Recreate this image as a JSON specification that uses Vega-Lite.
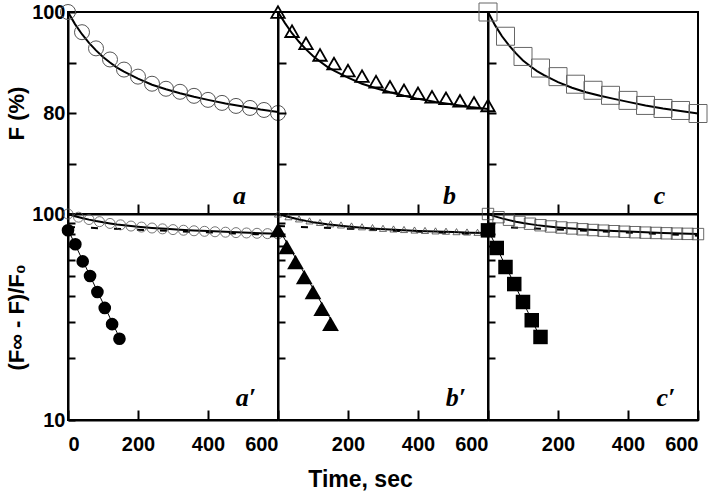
{
"$schema":"https://vega.github.io/schema/vega-lite/v6.json",
"background":"white",
"padding":{"left":4,"top":0,"right":5,"bottom":2},
"config":{
 "view":{"stroke":"black","strokeWidth":2},
 "concat":{"spacing":0},
 "axis":{"grid":false,"labelFont":"Liberation Sans","labelFontWeight":"bold","labelFontSize":20,"labelColor":"black","titleFont":"Liberation Sans","titleFontWeight":"bold","titleFontSize":22,"titleColor":"black","domainColor":"black","domainWidth":2,"tickColor":"black","tickWidth":2}
},
"datasets":{
 "sym":[
  {"panel":"a","t":0,"v":100},{"panel":"a","t":40,"v":96},{"panel":"a","t":80,"v":92.8},{"panel":"a","t":120,"v":90.6},{"panel":"a","t":160,"v":88.6},{"panel":"a","t":200,"v":87.2},{"panel":"a","t":240,"v":85.8},{"panel":"a","t":280,"v":84.8},{"panel":"a","t":320,"v":84.2},{"panel":"a","t":360,"v":83.4},{"panel":"a","t":400,"v":82.6},{"panel":"a","t":440,"v":82},{"panel":"a","t":480,"v":81.4},{"panel":"a","t":520,"v":81},{"panel":"a","t":560,"v":80.6},{"panel":"a","t":600,"v":80},
  {"panel":"b","t":0,"v":100},{"panel":"b","t":40,"v":96.2},{"panel":"b","t":80,"v":93.8},{"panel":"b","t":120,"v":91.5},{"panel":"b","t":160,"v":89.8},{"panel":"b","t":200,"v":88.4},{"panel":"b","t":240,"v":87.3},{"panel":"b","t":280,"v":86.2},{"panel":"b","t":320,"v":85.2},{"panel":"b","t":360,"v":84.5},{"panel":"b","t":400,"v":83.9},{"panel":"b","t":440,"v":83.2},{"panel":"b","t":480,"v":82.9},{"panel":"b","t":520,"v":82.4},{"panel":"b","t":560,"v":82},{"panel":"b","t":600,"v":81.5},
  {"panel":"c","t":0,"v":100},{"panel":"c","t":50,"v":95.2},{"panel":"c","t":100,"v":91.2},{"panel":"c","t":150,"v":88.9},{"panel":"c","t":200,"v":87.2},{"panel":"c","t":250,"v":85.7},{"panel":"c","t":300,"v":84.5},{"panel":"c","t":350,"v":83.5},{"panel":"c","t":400,"v":82.5},{"panel":"c","t":450,"v":81.5},{"panel":"c","t":500,"v":80.9},{"panel":"c","t":550,"v":80.5},{"panel":"c","t":600,"v":79.9}
 ],
 "fit":[
  {"panel":"a","t":0,"v":100},{"panel":"a","t":20,"v":97.6},{"panel":"a","t":40,"v":95.6},{"panel":"a","t":60,"v":93.9},{"panel":"a","t":80,"v":92.4},{"panel":"a","t":100,"v":91.1},{"panel":"a","t":120,"v":90},{"panel":"a","t":140,"v":89},{"panel":"a","t":160,"v":88.2},{"panel":"a","t":200,"v":86.8},{"panel":"a","t":240,"v":85.6},{"panel":"a","t":280,"v":84.7},{"panel":"a","t":320,"v":83.9},{"panel":"a","t":360,"v":83.2},{"panel":"a","t":400,"v":82.6},{"panel":"a","t":450,"v":81.9},{"panel":"a","t":500,"v":81.3},{"panel":"a","t":550,"v":80.7},{"panel":"a","t":600,"v":80.2},
  {"panel":"b","t":0,"v":100},{"panel":"b","t":20,"v":97.8},{"panel":"b","t":40,"v":95.8},{"panel":"b","t":60,"v":94.1},{"panel":"b","t":80,"v":92.6},{"panel":"b","t":100,"v":91.3},{"panel":"b","t":120,"v":90.2},{"panel":"b","t":140,"v":89.2},{"panel":"b","t":160,"v":88.4},{"panel":"b","t":200,"v":87},{"panel":"b","t":240,"v":85.8},{"panel":"b","t":280,"v":84.9},{"panel":"b","t":320,"v":84.1},{"panel":"b","t":360,"v":83.4},{"panel":"b","t":400,"v":82.8},{"panel":"b","t":450,"v":82.2},{"panel":"b","t":500,"v":81.7},{"panel":"b","t":550,"v":81.2},{"panel":"b","t":600,"v":80.8},
  {"panel":"c","t":0,"v":100},{"panel":"c","t":20,"v":97.4},{"panel":"c","t":40,"v":95.2},{"panel":"c","t":60,"v":93.4},{"panel":"c","t":80,"v":91.8},{"panel":"c","t":100,"v":90.4},{"panel":"c","t":120,"v":89.3},{"panel":"c","t":140,"v":88.3},{"panel":"c","t":160,"v":87.5},{"panel":"c","t":200,"v":86.1},{"panel":"c","t":240,"v":85},{"panel":"c","t":280,"v":84.1},{"panel":"c","t":320,"v":83.4},{"panel":"c","t":360,"v":82.8},{"panel":"c","t":400,"v":82.2},{"panel":"c","t":450,"v":81.5},{"panel":"c","t":500,"v":80.9},{"panel":"c","t":550,"v":80.4},{"panel":"c","t":600,"v":79.9}
 ],
 "small":[
  {"panel":"a","t":0,"v":100},{"panel":"a","t":30,"v":96.5},{"panel":"a","t":60,"v":94},{"panel":"a","t":90,"v":91.8},{"panel":"a","t":120,"v":90},{"panel":"a","t":150,"v":88.6},{"panel":"a","t":180,"v":87.4},{"panel":"a","t":210,"v":86.4},{"panel":"a","t":240,"v":85.5},{"panel":"a","t":270,"v":84.7},{"panel":"a","t":300,"v":84},{"panel":"a","t":330,"v":83.4},{"panel":"a","t":360,"v":82.9},{"panel":"a","t":390,"v":82.4},{"panel":"a","t":420,"v":82},{"panel":"a","t":450,"v":81.6},{"panel":"a","t":480,"v":81.2},{"panel":"a","t":510,"v":80.9},{"panel":"a","t":540,"v":80.6},{"panel":"a","t":570,"v":80.3},{"panel":"a","t":600,"v":80},
  {"panel":"b","t":0,"v":100},{"panel":"b","t":30,"v":97},{"panel":"b","t":60,"v":94.7},{"panel":"b","t":90,"v":92.6},{"panel":"b","t":120,"v":91},{"panel":"b","t":150,"v":89.6},{"panel":"b","t":180,"v":88.5},{"panel":"b","t":210,"v":87.5},{"panel":"b","t":240,"v":86.7},{"panel":"b","t":270,"v":85.9},{"panel":"b","t":300,"v":85.2},{"panel":"b","t":330,"v":84.6},{"panel":"b","t":360,"v":84.1},{"panel":"b","t":390,"v":83.6},{"panel":"b","t":420,"v":83.2},{"panel":"b","t":450,"v":82.8},{"panel":"b","t":480,"v":82.5},{"panel":"b","t":510,"v":82.1},{"panel":"b","t":540,"v":81.8},{"panel":"b","t":570,"v":81.5},{"panel":"b","t":600,"v":81.2},
  {"panel":"c","t":0,"v":100},{"panel":"c","t":30,"v":96.5},{"panel":"c","t":60,"v":93.8},{"panel":"c","t":90,"v":91.5},{"panel":"c","t":120,"v":89.7},{"panel":"c","t":150,"v":88.2},{"panel":"c","t":180,"v":87},{"panel":"c","t":210,"v":86},{"panel":"c","t":240,"v":85.1},{"panel":"c","t":270,"v":84.3},{"panel":"c","t":300,"v":83.6},{"panel":"c","t":330,"v":83},{"panel":"c","t":360,"v":82.5},{"panel":"c","t":390,"v":82},{"panel":"c","t":420,"v":81.6},{"panel":"c","t":450,"v":81.2},{"panel":"c","t":480,"v":80.9},{"panel":"c","t":510,"v":80.6},{"panel":"c","t":540,"v":80.3},{"panel":"c","t":570,"v":80.1},{"panel":"c","t":600,"v":79.9}
 ],
 "filled":[
  {"panel":"a","t":0,"v":83.4},{"panel":"a","t":21,"v":71.3},{"panel":"a","t":42,"v":58.9},{"panel":"a","t":63,"v":50},{"panel":"a","t":84,"v":41.8},{"panel":"a","t":105,"v":35},{"panel":"a","t":126,"v":29.2},{"panel":"a","t":147,"v":24.8},
  {"panel":"b","t":0,"v":83.6},{"panel":"b","t":25,"v":69.1},{"panel":"b","t":50,"v":58.5},{"panel":"b","t":75,"v":49.5},{"panel":"b","t":100,"v":41.8},{"panel":"b","t":125,"v":34.7},{"panel":"b","t":150,"v":29.3},
  {"panel":"c","t":0,"v":83.3},{"panel":"c","t":25,"v":68.4},{"panel":"c","t":50,"v":55.3},{"panel":"c","t":75,"v":45.7},{"panel":"c","t":100,"v":37.4},{"panel":"c","t":125,"v":30.5},{"panel":"c","t":150,"v":25.3}
 ],
 "logfit":[
  {"panel":"a","t":0,"v":84},{"panel":"a","t":150,"v":24.5},
  {"panel":"b","t":0,"v":86},{"panel":"b","t":170,"v":27},
  {"panel":"c","t":0,"v":84},{"panel":"c","t":150,"v":25}
 ],
 "dash":[
  {"panel":"a","t":0,"v":86.5},{"panel":"a","t":600,"v":79},
  {"panel":"b","t":0,"v":87.5},{"panel":"b","t":600,"v":79.5},
  {"panel":"c","t":0,"v":87},{"panel":"c","t":600,"v":78.5}
 ],
 "lab":[
  {"panel":"a","row":"top","t":490,"v":63.5,"label":"a"},
  {"panel":"b","row":"top","t":490,"v":63.5,"label":"b"},
  {"panel":"c","row":"top","t":490,"v":63.5,"label":"c"},
  {"panel":"a","row":"bottom","t":508,"v":12.8,"label":"a′"},
  {"panel":"b","row":"bottom","t":508,"v":12.8,"label":"b′"},
  {"panel":"c","row":"bottom","t":508,"v":12.8,"label":"c′"}
 ]
},
"columns":3,
"spacing":0,
"bounds":"flush",
"align":"each",
"concat":[
  {"width":210,"height":202,
   "encoding":{
    "x":{"field":"t","type":"quantitative","scale":{"domain":[0,600],"nice":false},"axis":{"title":null,"labels":false,"values":[200,400],"tickSize":-10}},
    "y":{"field":"v","type":"quantitative","scale":{"domain":[60,100],"nice":false,"zero":false},"axis":{"title":"F (%)","values":[60,70,80,90,100],"labelExpr":"datum.value==80||datum.value==100?datum.label:''","tickSize":-8,"labelPadding":11,"titlePadding":3}}},
   "layer":[
    {"data":{"name":"fit"},"transform":[{"filter":"datum.panel=='a'"}],"mark":{"type":"line","color":"black","strokeWidth":2}},
    {"data":{"name":"sym"},"transform":[{"filter":"datum.panel=='a'"}],"mark":{"type":"point","shape":"circle","filled":false,"stroke":"#555","strokeWidth":1,"size":225,"opacity":1}},
    {"data":{"name":"lab"},"transform":[{"filter":"datum.panel=='a'&&datum.row=='top'"}],"mark":{"type":"text","font":"Liberation Serif","fontStyle":"italic","fontWeight":"bold","fontSize":26,"color":"black"},"encoding":{"text":{"field":"label"}}}
   ]},
  {"width":210,"height":202,
   "encoding":{
    "x":{"field":"t","type":"quantitative","scale":{"domain":[0,600],"nice":false},"axis":{"title":null,"labels":false,"values":[200,400],"tickSize":-10}},
    "y":{"field":"v","type":"quantitative","scale":{"domain":[60,100],"nice":false,"zero":false},"axis":{"title":null,"labels":false,"values":[70,80,90],"tickSize":-8}}},
   "layer":[
    {"data":{"name":"fit"},"transform":[{"filter":"datum.panel=='b'"}],"mark":{"type":"line","color":"black","strokeWidth":2}},
    {"data":{"name":"sym"},"transform":[{"filter":"datum.panel=='b'"}],"mark":{"type":"point","shape":"triangle-up","filled":false,"stroke":"black","strokeWidth":1.8,"size":180,"opacity":1}},
    {"data":{"name":"lab"},"transform":[{"filter":"datum.panel=='b'&&datum.row=='top'"}],"mark":{"type":"text","font":"Liberation Serif","fontStyle":"italic","fontWeight":"bold","fontSize":26,"color":"black"},"encoding":{"text":{"field":"label"}}}
   ]},
  {"width":210,"height":202,
   "encoding":{
    "x":{"field":"t","type":"quantitative","scale":{"domain":[0,600],"nice":false},"axis":{"title":null,"labels":false,"values":[200,400],"tickSize":-10}},
    "y":{"field":"v","type":"quantitative","scale":{"domain":[60,100],"nice":false,"zero":false},"axis":{"title":null,"labels":false,"values":[70,80,90],"tickSize":-8}}},
   "layer":[
    {"data":{"name":"fit"},"transform":[{"filter":"datum.panel=='c'"}],"mark":{"type":"line","color":"black","strokeWidth":2}},
    {"data":{"name":"sym"},"transform":[{"filter":"datum.panel=='c'"}],"mark":{"type":"point","shape":"square","filled":false,"stroke":"#666","strokeWidth":1,"size":324,"opacity":1}},
    {"data":{"name":"lab"},"transform":[{"filter":"datum.panel=='c'&&datum.row=='top'"}],"mark":{"type":"text","font":"Liberation Serif","fontStyle":"italic","fontWeight":"bold","fontSize":26,"color":"black"},"encoding":{"text":{"field":"label"}}}
   ]},
  {"width":210,"height":206,
   "encoding":{
    "x":{"field":"t","type":"quantitative","scale":{"domain":[0,600],"nice":false},"axis":{"title":null,"values":[0,200,400,600],"tickSize":-10,"labelPadding":24}},
    "y":{"field":"v","type":"quantitative","scale":{"type":"log","domain":[10,100],"nice":false},"axis":{"title":"(F∞ - F)/F₀","values":[10,20,30,40,50,60,70,80,90,100],"labelExpr":"datum.value==10||datum.value==100?datum.label:''","tickSize":-7,"labelPadding":10,"titlePadding":3}}},
   "layer":[
    {"data":{"name":"dash"},"transform":[{"filter":"datum.panel=='a'"}],"mark":{"type":"line","color":"black","strokeWidth":2,"strokeDash":[7,16]}},
    {"data":{"name":"fit"},"transform":[{"filter":"datum.panel=='a'"}],"mark":{"type":"line","color":"black","strokeWidth":2}},
    {"data":{"name":"small"},"transform":[{"filter":"datum.panel=='a'"}],"mark":{"type":"point","shape":"circle","filled":false,"stroke":"#555","strokeWidth":0.8,"size":100,"opacity":1}},
    {"data":{"name":"logfit"},"transform":[{"filter":"datum.panel=='a'"}],"mark":{"type":"line","color":"black","strokeWidth":1}},
    {"data":{"name":"filled"},"transform":[{"filter":"datum.panel=='a'"}],"mark":{"type":"point","shape":"circle","filled":true,"color":"black","size":160,"opacity":1}},
    {"data":{"name":"lab"},"transform":[{"filter":"datum.panel=='a'&&datum.row=='bottom'"}],"mark":{"type":"text","font":"Liberation Serif","fontStyle":"italic","fontWeight":"bold","fontSize":26,"color":"black"},"encoding":{"text":{"field":"label"}}}
   ]},
  {"width":210,"height":206,
   "encoding":{
    "x":{"field":"t","type":"quantitative","scale":{"domain":[0,600],"nice":false},"axis":{"title":"Time, sec","titleFontSize":23,"values":[200,400,600],"tickSize":-10,"labelPadding":24,"titlePadding":14,"titleX":82}},
    "y":{"field":"v","type":"quantitative","scale":{"type":"log","domain":[10,100],"nice":false},"axis":{"title":null,"labels":false,"values":[20,30,40,50,60,70,80,90],"tickSize":-7}}},
   "layer":[
    {"data":{"name":"dash"},"transform":[{"filter":"datum.panel=='b'"}],"mark":{"type":"line","color":"black","strokeWidth":2,"strokeDash":[7,16]}},
    {"data":{"name":"fit"},"transform":[{"filter":"datum.panel=='b'"}],"mark":{"type":"line","color":"black","strokeWidth":2}},
    {"data":{"name":"small"},"transform":[{"filter":"datum.panel=='b'"}],"mark":{"type":"point","shape":"triangle-up","filled":false,"stroke":"#444","strokeWidth":0.8,"size":50,"opacity":1}},
    {"data":{"name":"logfit"},"transform":[{"filter":"datum.panel=='b'"}],"mark":{"type":"line","color":"black","strokeWidth":1}},
    {"data":{"name":"filled"},"transform":[{"filter":"datum.panel=='b'"}],"mark":{"type":"point","shape":"triangle-up","filled":true,"color":"black","size":280,"opacity":1}},
    {"data":{"name":"lab"},"transform":[{"filter":"datum.panel=='b'&&datum.row=='bottom'"}],"mark":{"type":"text","font":"Liberation Serif","fontStyle":"italic","fontWeight":"bold","fontSize":26,"color":"black"},"encoding":{"text":{"field":"label"}}}
   ]},
  {"width":210,"height":206,
   "encoding":{
    "x":{"field":"t","type":"quantitative","scale":{"domain":[0,600],"nice":false},"axis":{"title":null,"values":[200,400,600],"tickSize":-10,"labelPadding":24}},
    "y":{"field":"v","type":"quantitative","scale":{"type":"log","domain":[10,100],"nice":false},"axis":{"title":null,"labels":false,"values":[20,30,40,50,60,70,80,90],"tickSize":-7}}},
   "layer":[
    {"data":{"name":"dash"},"transform":[{"filter":"datum.panel=='c'"}],"mark":{"type":"line","color":"black","strokeWidth":2,"strokeDash":[7,16]}},
    {"data":{"name":"fit"},"transform":[{"filter":"datum.panel=='c'"}],"mark":{"type":"line","color":"black","strokeWidth":2}},
    {"data":{"name":"small"},"transform":[{"filter":"datum.panel=='c'"}],"mark":{"type":"point","shape":"square","filled":false,"stroke":"#444","strokeWidth":0.8,"size":130,"opacity":1}},
    {"data":{"name":"logfit"},"transform":[{"filter":"datum.panel=='c'"}],"mark":{"type":"line","color":"black","strokeWidth":1}},
    {"data":{"name":"filled"},"transform":[{"filter":"datum.panel=='c'"}],"mark":{"type":"point","shape":"square","filled":true,"color":"black","size":210,"opacity":1}},
    {"data":{"name":"lab"},"transform":[{"filter":"datum.panel=='c'&&datum.row=='bottom'"}],"mark":{"type":"text","font":"Liberation Serif","fontStyle":"italic","fontWeight":"bold","fontSize":26,"color":"black"},"encoding":{"text":{"field":"label"}}}
   ]}
]
}
